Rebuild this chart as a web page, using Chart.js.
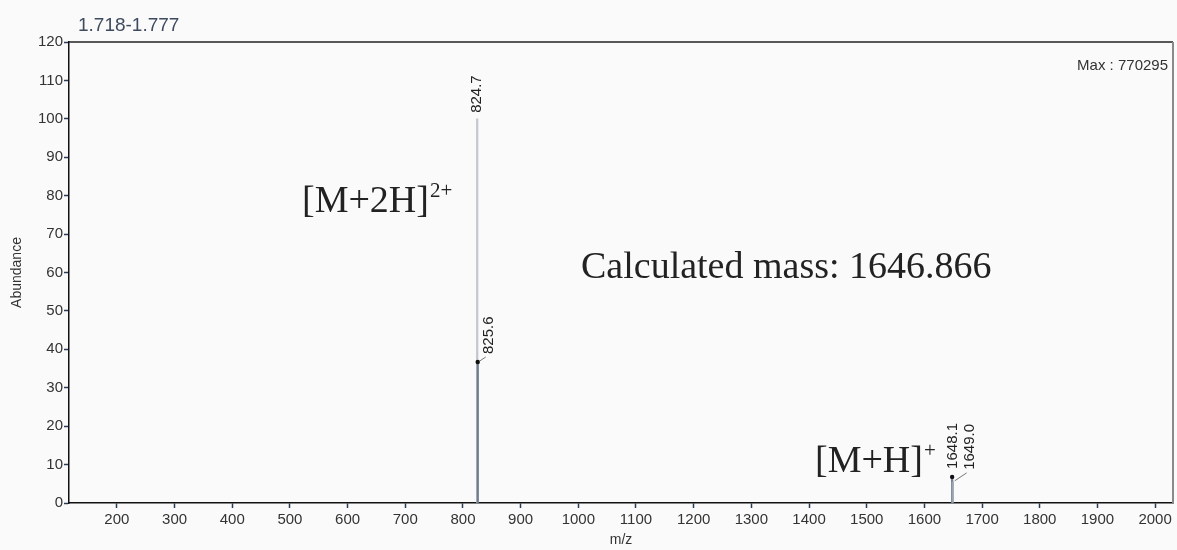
<!DOCTYPE html>
<html>
<head>
<meta charset="utf-8">
<script src="https://cdn.jsdelivr.net/npm/chart.js@4"></script>
<style>
  html, body { margin: 0; padding: 0; background: #fafafa; }
  #wrap { width: 1177px; height: 550px; position: relative; }
</style>
</head>
<body>
<div id="wrap"><canvas id="spectrum" width="1177" height="550"></canvas></div>
<script>
// peak list (m/z, relative abundance %)
const peakMz = [824.7, 825.6, 1648.1, 1649.0];
const peakAbundance = [100, 36.7, 6.8, 5.5];
const peakColors = ['#c3c7ce', '#6f7c90', '#6f7c90', '#9aa3b0'];
const peakMarker = [false, true, true, false];

const xTicks = [200, 300, 400, 500, 600, 700, 800, 900, 1000, 1100, 1200, 1300, 1400, 1500, 1600, 1700, 1800, 1900, 2000];
const yTicks = [0, 10, 20, 30, 40, 50, 60, 70, 80, 90, 100, 110, 120];

const rangeTitle = '1.718-1.777';
const maxText = 'Max : 770295';

// label placement (px offset from the peak top)
const labelShift = [
  { dx: 0, dy: -6, leader: false },
  { dx: 11, dy: -8, leader: true },
  { dx: 1, dy: -8, leader: false },
  { dx: 17, dy: -12, leader: true },
];

const sans = "'Liberation Sans', Arial, sans-serif";
const serif = "'Liberation Serif', 'Times New Roman', serif";

const decorations = {
  id: 'decorations',
  beforeDraw(chart) {
    const { ctx, width, height } = chart;
    ctx.save();
    ctx.fillStyle = '#fafafa';
    ctx.fillRect(0, 0, width, height);
    ctx.restore();
  },
  afterDatasetsDraw(chart) {
    const { ctx, chartArea: a, scales: { x, y } } = chart;
    ctx.save();

    // frame top + right
    ctx.strokeStyle = '#222';
    ctx.lineWidth = 1.5;
    ctx.beginPath();
    ctx.moveTo(a.left, a.top);
    ctx.lineTo(a.right, a.top);
    ctx.stroke();
    ctx.strokeStyle = '#8a8a8a';
    ctx.lineWidth = 2;
    ctx.beginPath();
    ctx.moveTo(a.right, a.top);
    ctx.lineTo(a.right, a.bottom);
    ctx.stroke();

    // peak labels
    peakMz.forEach((mz, i) => {
      const px = x.getPixelForValue(mz);
      const py = y.getPixelForValue(peakAbundance[i]);
      const s = labelShift[i];
      if (peakMarker[i]) {
        ctx.fillStyle = '#111';
        ctx.beginPath();
        ctx.arc(px, py, 2.2, 0, Math.PI * 2);
        ctx.fill();
      }
      const lx = px + s.dx;
      const ly = py + s.dy;
      if (s.leader) {
        ctx.strokeStyle = '#777';
        ctx.lineWidth = 1;
        ctx.beginPath();
        ctx.moveTo(px + 2, py - 1);
        ctx.lineTo(lx - 3, ly + 3);
        ctx.stroke();
      }
      ctx.save();
      ctx.translate(lx, ly);
      ctx.rotate(-Math.PI / 2);
      ctx.fillStyle = '#222';
      ctx.font = '15px ' + sans;
      ctx.textAlign = 'left';
      ctx.textBaseline = 'middle';
      ctx.fillText(mz.toFixed(1), 0, 0);
      ctx.restore();
    });

    // header texts
    ctx.fillStyle = '#3e4b5e';
    ctx.font = '19px ' + sans;
    ctx.textAlign = 'left';
    ctx.textBaseline = 'alphabetic';
    ctx.fillText(rangeTitle, 78, 31);
    ctx.fillStyle = '#333';
    ctx.font = '15px ' + sans;
    ctx.textAlign = 'right';
    ctx.fillText(maxText, a.right - 5, 70);

    // annotations
    ctx.fillStyle = '#222';
    ctx.textAlign = 'left';
    ctx.font = '38px ' + serif;
    ctx.fillText('[M+2H]', 302, 212);
    let w = ctx.measureText('[M+2H]').width;
    ctx.font = '21px ' + serif;
    ctx.fillText('2+', 302 + w + 1, 197);

    ctx.font = '38px ' + serif;
    ctx.fillText('Calculated mass: 1646.866', 581, 278);

    ctx.font = '38px ' + serif;
    ctx.fillText('[M+H]', 815, 472);
    w = ctx.measureText('[M+H]').width;
    ctx.font = '21px ' + serif;
    ctx.fillText('+', 815 + w + 1, 457);

    ctx.restore();
  }
};

new Chart(document.getElementById('spectrum'), {
  type: 'bar',
  data: {
    datasets: [{
      data: peakMz.map((mz, i) => ({ x: mz, y: peakAbundance[i] })),
      backgroundColor: peakColors,
      borderWidth: 0,
      barThickness: 1.6,
      grouped: false,
    }]
  },
  options: {
    responsive: false,
    animation: false,
    layout: { padding: { top: 42, right: 4, left: 0, bottom: 0 } },
    plugins: { legend: { display: false }, tooltip: { enabled: false }, title: { display: false } },
    scales: {
      x: {
        type: 'linear',
        min: 117,
        max: 2031,
        offset: false,
        afterBuildTicks(scale) { scale.ticks = xTicks.map(v => ({ value: v })); },
        afterFit(scale) { scale.height = 47; },
        grid: { offset: false, drawOnChartArea: false, tickLength: 5, color: '#2b3a55', tickWidth: 1.5 },
        border: { color: '#111', width: 1.5 },
        ticks: {
          color: '#333', font: { family: sans, size: 15 }, padding: 3, maxRotation: 0, autoSkip: false,
          callback: v => String(v),
        },
        title: { display: true, text: 'm/z', color: '#333', font: { family: sans, size: 14 }, padding: { top: 0, bottom: 1 } },
      },
      y: {
        type: 'linear',
        min: 0,
        max: 120,
        afterBuildTicks(scale) { scale.ticks = yTicks.map(v => ({ value: v })); },
        afterFit(scale) { scale.width = 69; },
        grid: { drawOnChartArea: false, tickLength: 5, color: '#2b3a55', tickWidth: 1.5 },
        border: { color: '#111', width: 1.5 },
        ticks: { color: '#333', font: { family: sans, size: 15 }, padding: 1, callback: v => String(v) },
        title: { display: true, text: 'Abundance', color: '#333', font: { family: sans, size: 14 }, padding: { top: 9, bottom: 4 } },
      }
    }
  },
  plugins: [decorations]
});
</script>
</body>
</html>
